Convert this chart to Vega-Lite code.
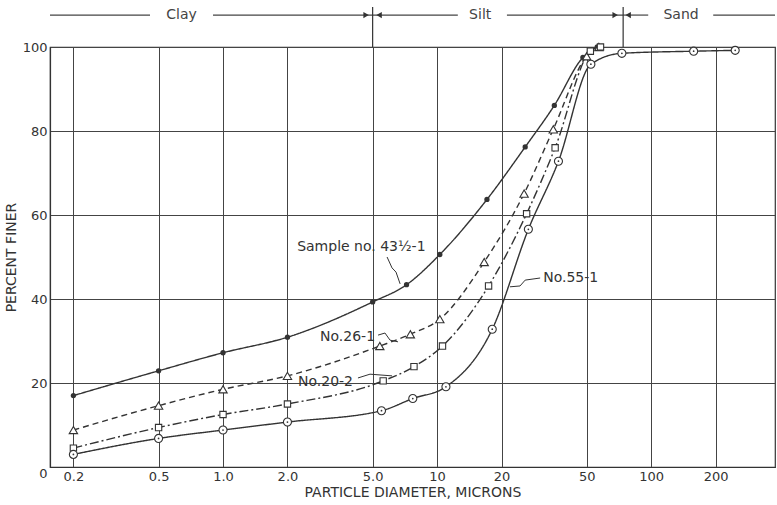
{
  "$schema": "https://vega.github.io/schema/vega-lite/v6.json",
  "width": 725,
  "height": 420,
  "autosize": {"type": "none"},
  "padding": {"left": 50, "top": 47, "right": 2, "bottom": 38},
  "background": "white",
  "config": {
    "view": {"stroke": "#333", "strokeWidth": 1.2},
    "font": "DejaVu Sans"
  },
  "datasets": {
    "curves": [
      {"s": "43", "x": 0.2, "y": 17},
      {"s": "43", "x": 0.5, "y": 22.9},
      {"s": "43", "x": 1, "y": 27.2},
      {"s": "43", "x": 2, "y": 30.9},
      {"s": "43", "x": 5, "y": 39.3},
      {"s": "43", "x": 7.2, "y": 43.4},
      {"s": "43", "x": 10.3, "y": 50.6},
      {"s": "43", "x": 17.1, "y": 63.7},
      {"s": "43", "x": 25.8, "y": 76.2},
      {"s": "43", "x": 35.3, "y": 86.1},
      {"s": "43", "x": 48, "y": 97.5},
      {"s": "43", "x": 56, "y": 100},
      {"s": "26", "x": 0.2, "y": 8.8},
      {"s": "26", "x": 0.5, "y": 14.6},
      {"s": "26", "x": 1, "y": 18.5},
      {"s": "26", "x": 2, "y": 21.7},
      {"s": "26", "x": 5.4, "y": 28.8},
      {"s": "26", "x": 7.5, "y": 31.6},
      {"s": "26", "x": 10.3, "y": 35.2},
      {"s": "26", "x": 16.6, "y": 48.8},
      {"s": "26", "x": 25.5, "y": 65.1},
      {"s": "26", "x": 34.9, "y": 80.4},
      {"s": "26", "x": 50, "y": 97.8},
      {"s": "26", "x": 57, "y": 100},
      {"s": "20", "x": 0.2, "y": 4.5},
      {"s": "20", "x": 0.5, "y": 9.4},
      {"s": "20", "x": 1, "y": 12.5},
      {"s": "20", "x": 2, "y": 15},
      {"s": "20", "x": 5.6, "y": 20.5},
      {"s": "20", "x": 7.8, "y": 23.9},
      {"s": "20", "x": 10.6, "y": 28.8},
      {"s": "20", "x": 17.4, "y": 43.1},
      {"s": "20", "x": 26.2, "y": 60.3},
      {"s": "20", "x": 35.6, "y": 76},
      {"s": "20", "x": 52, "y": 99},
      {"s": "20", "x": 58, "y": 100},
      {"s": "55", "x": 0.2, "y": 3},
      {"s": "55", "x": 0.5, "y": 6.8},
      {"s": "55", "x": 1, "y": 8.8},
      {"s": "55", "x": 2, "y": 10.7},
      {"s": "55", "x": 5.5, "y": 13.4},
      {"s": "55", "x": 7.7, "y": 16.3},
      {"s": "55", "x": 11, "y": 19.1},
      {"s": "55", "x": 18.1, "y": 32.8},
      {"s": "55", "x": 26.7, "y": 56.6},
      {"s": "55", "x": 36.9, "y": 72.8},
      {"s": "55", "x": 52.3, "y": 95.9},
      {"s": "55", "x": 73, "y": 98.5},
      {"s": "55", "x": 158, "y": 99},
      {"s": "55", "x": 247, "y": 99.2}
    ],
    "band": [
      {"x": 0.1555, "x2": 0.456, "y": 107.6},
      {"x": 0.898, "x2": 5, "y": 107.6},
      {"x": 5, "x2": 12.5, "y": 107.6},
      {"x": 21.2, "x2": 74, "y": 107.6},
      {"x": 74, "x2": 96.9, "y": 107.6},
      {"x": 195, "x2": 379, "y": 107.6}
    ],
    "bandText": [
      {"t": "Clay", "x": 0.64, "y": 107.6},
      {"t": "Silt", "x": 15.9, "y": 107.6},
      {"t": "Sand", "x": 138, "y": 107.6}
    ],
    "dividers": [
      {"x": 5, "y": 100, "y2": 109.5},
      {"x": 74, "y": 100, "y2": 109.5}
    ],
    "arrows": [
      {"x": 4.66, "y": 107.6, "dir": "r"},
      {"x": 5.36, "y": 107.6, "dir": "l"},
      {"x": 67.9, "y": 107.6, "dir": "r"},
      {"x": 78.1, "y": 107.6, "dir": "l"}
    ],
    "labels": [
      {"t": "Sample no. 43½-1", "x": 2.22, "y": 52.4},
      {"t": "No.26-1", "x": 2.84, "y": 31},
      {"t": "No.20-2", "x": 2.24, "y": 20.2},
      {"t": "No.55-1", "x": 31.3, "y": 45}
    ],
    "leaders": [
      {"id": "a", "o": 1, "x": 5.84, "y": 50},
      {"id": "a", "o": 2, "x": 6.16, "y": 47.4},
      {"id": "a", "o": 3, "x": 6.43, "y": 46.4},
      {"id": "a", "o": 4, "x": 6.72, "y": 43.6},
      {"id": "b", "o": 1, "x": 5.3, "y": 31.4},
      {"id": "b", "o": 2, "x": 5.71, "y": 31.9},
      {"id": "b", "o": 3, "x": 6.03, "y": 30.2},
      {"id": "b", "o": 4, "x": 6.57, "y": 29.8},
      {"id": "c", "o": 1, "x": 4.27, "y": 21.2},
      {"id": "c", "o": 2, "x": 4.86, "y": 22.1},
      {"id": "c", "o": 3, "x": 6.16, "y": 21.7},
      {"id": "d", "o": 1, "x": 30.3, "y": 45},
      {"id": "d", "o": 2, "x": 25.8, "y": 44.5},
      {"id": "d", "o": 3, "x": 24.4, "y": 43.1},
      {"id": "d", "o": 4, "x": 21.9, "y": 42.9}
    ]
  },
  "encoding": {
    "x": {
      "field": "x",
      "type": "quantitative",
      "scale": {"type": "log", "domain": [0.1555, 379], "nice": false},
      "axis": {
        "values": [0.2, 0.5, 1, 2, 5, 10, 20, 50, 100, 200],
        "labelExpr": "datum.value == 1 ? '1.0' : datum.value == 2 ? '2.0' : datum.value == 5 ? '5.0' : datum.label",
        "title": "PARTICLE DIAMETER, MICRONS",
        "grid": true,
        "gridColor": "#444",
        "gridWidth": 1,
        "gridOpacity": 1,
        "ticks": false,
        "domainColor": "#333",
        "domainWidth": 1.2,
        "labelFontSize": 13,
        "labelColor": "#333",
        "labelPadding": 3,
        "labelFlush": false,
        "labelOverlap": false,
        "titleFontSize": 14,
        "titleFontWeight": "normal",
        "titleColor": "#333",
        "titlePadding": 2
      }
    },
    "y": {
      "field": "y",
      "type": "quantitative",
      "scale": {"domain": [0, 100], "nice": false},
      "axis": {
        "values": [0, 20, 40, 60, 80, 100],
        "title": "PERCENT FINER",
        "grid": true,
        "gridColor": "#444",
        "gridWidth": 1,
        "gridOpacity": 1,
        "ticks": false,
        "domainColor": "#333",
        "domainWidth": 1.2,
        "labelFontSize": 13,
        "labelColor": "#333",
        "labelPadding": 3,
        "labelFlush": false,
        "labelBaseline": {"condition": {"test": "datum.value == 0", "value": "top"}, "value": "middle"},
        "titleFontSize": 14,
        "titleFontWeight": "normal",
        "titleColor": "#333",
        "titlePadding": 4
      }
    }
  },
  "layer": [
    {
      "data": {"name": "curves"},
      "mark": {"type": "line", "interpolate": "monotone", "color": "#333", "strokeWidth": 1.4, "clip": false},
      "encoding": {
        "strokeDash": {"field": "s", "type": "nominal", "scale": {"domain": ["43", "26", "20", "55"], "range": [[1, 0], [6, 4], [9, 3, 2, 3], [1, 0]]}, "legend": null}
      }
    },
    {
      "data": {"name": "band"},
      "mark": {"type": "rule", "color": "#444", "strokeWidth": 1.2, "clip": false},
      "encoding": {"x2": {"field": "x2"}}
    },
    {
      "data": {"name": "dividers"},
      "mark": {"type": "rule", "color": "#333", "strokeWidth": 1.2, "clip": false},
      "encoding": {"y2": {"field": "y2"}}
    },
    {
      "data": {"name": "arrows"},
      "mark": {"type": "point", "filled": true, "color": "#333", "size": 40, "opacity": 1, "clip": false},
      "encoding": {
        "shape": {"field": "dir", "type": "nominal", "scale": {"domain": ["r", "l"], "range": ["triangle-right", "triangle-left"]}, "legend": null}
      }
    },
    {
      "data": {"name": "bandText"},
      "mark": {"type": "text", "fontSize": 14, "color": "#444", "baseline": "middle", "align": "center", "clip": false},
      "encoding": {"text": {"field": "t"}}
    },
    {
      "data": {"name": "leaders"},
      "mark": {"type": "line", "color": "#333", "strokeWidth": 1, "clip": false},
      "encoding": {"detail": {"field": "id"}, "order": {"field": "o", "type": "quantitative"}}
    },
    {
      "data": {"name": "curves"},
      "transform": [{"filter": "datum.s == '43'"}],
      "mark": {"type": "point", "filled": true, "color": "#333", "shape": "circle", "size": 28, "opacity": 1, "clip": false}
    },
    {
      "data": {"name": "curves"},
      "transform": [{"filter": "datum.s == '26'"}],
      "mark": {"type": "point", "filled": true, "fill": "white", "stroke": "#333", "strokeWidth": 1.1, "shape": "triangle-up", "size": 70, "opacity": 1, "clip": false}
    },
    {
      "data": {"name": "curves"},
      "transform": [{"filter": "datum.s == '20'"}],
      "mark": {"type": "point", "filled": true, "fill": "white", "stroke": "#333", "strokeWidth": 1.1, "shape": "square", "size": 40, "opacity": 1, "clip": false}
    },
    {
      "data": {"name": "curves"},
      "transform": [{"filter": "datum.s == '55'"}],
      "mark": {"type": "point", "filled": true, "fill": "white", "stroke": "#333", "strokeWidth": 1.1, "shape": "circle", "size": 65, "opacity": 1, "clip": false}
    },
    {
      "data": {"name": "curves"},
      "transform": [{"filter": "datum.s == '55'"}],
      "mark": {"type": "point", "filled": true, "color": "#333", "shape": "circle", "size": 3, "opacity": 1, "clip": false}
    },
    {
      "data": {"name": "labels"},
      "mark": {"type": "text", "fontSize": 14, "color": "#333", "align": "left", "baseline": "middle", "clip": false},
      "encoding": {"text": {"field": "t"}}
    }
  ]
}
